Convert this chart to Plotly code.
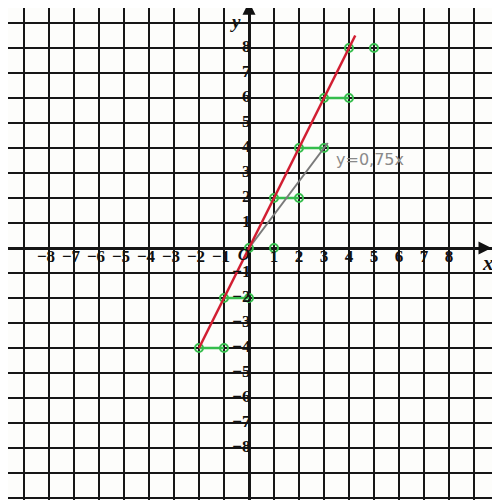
import plotly.graph_objects as go

# data
ticks_x = [-8, -7, -6, -5, -4, -3, -2, -1, 1, 2, 3, 4, 5, 6, 7, 8]
ticks_y = [-8, -7, -6, -5, -4, -3, -2, -1, 1, 2, 3, 4, 5, 6, 7, 8]

red_x = [-2, 4.25]
red_y = [-4, 8.5]

gray_x = [0, 3.15]
gray_y = [0, 4.2]

# green steps: start/end of each horizontal piece
steps_x0 = [-2, -1, 0, 1, 2, 3, 4]
steps_x1 = [-1, 0, 1, 2, 3, 4, 5]
steps_y = [-4, -2, 0, 2, 4, 6, 8]
steps_joined = [True, True, False, True, True, True, False]

GRID = "#161616"
GREEN = "#35bd4c"
LABEL_FONT = dict(family="Liberation Serif", size=17, color="#111",
                  weight="bold")


def minus(v):
    return str(v).replace("-", "\u2212")


fig = go.Figure()

# green steps (segments + hollow circles)
for x0, x1, y, joined in zip(steps_x0, steps_x1, steps_y, steps_joined):
    fig.add_trace(go.Scatter(
        x=[x0, x1], y=[y, y], mode="lines+markers" if joined else "markers",
        line=dict(color=GREEN, width=2.5),
        marker=dict(size=8, color="rgba(255,255,255,0)",
                    line=dict(color=GREEN, width=2)),
        showlegend=False, hoverinfo="skip"))

fig.add_trace(go.Scatter(x=gray_x, y=gray_y, mode="lines",
                         line=dict(color="#7a7a7a", width=2),
                         showlegend=False))
fig.add_trace(go.Scatter(x=red_x, y=red_y, mode="lines",
                         line=dict(color="#d21f32", width=2.5),
                         showlegend=False))

# tick labels next to the axes
fig.add_trace(go.Scatter(
    x=[v - 0.12 if v < 0 else v for v in ticks_x], y=[-0.38] * len(ticks_x),
    mode="text", text=[minus(v) for v in ticks_x],
    textfont=LABEL_FONT, showlegend=False, hoverinfo="skip"))
fig.add_trace(go.Scatter(
    x=[0.06] * len(ticks_y), y=ticks_y, mode="text",
    text=[minus(v) for v in ticks_y],
    textposition="middle left", textfont=LABEL_FONT,
    showlegend=False, hoverinfo="skip"))
fig.add_trace(go.Scatter(
    x=[-0.2], y=[-0.3], mode="text", text=["<i>O</i>"],
    textfont=LABEL_FONT, showlegend=False, hoverinfo="skip"))

# axis names
fig.add_annotation(x=9.55, y=-0.6, text="<i><b>x</b></i>", showarrow=False,
                   font=dict(family="Liberation Serif", size=21, color="#111"))
fig.add_annotation(x=-0.55, y=9.58, yanchor="top", text="<i><b>y</b></i>",
                   showarrow=False,
                   font=dict(family="Liberation Serif", size=19, color="#111"))

# axis arrows
fig.add_annotation(x=9.7, y=0, ax=9.0, ay=0, xref="x", yref="y",
                   axref="x", ayref="y", text="", showarrow=True,
                   arrowhead=2, arrowsize=1.3, arrowwidth=2, arrowcolor="#111")
fig.add_annotation(x=0, y=9.85, ax=0, ay=9.0, xref="x", yref="y",
                   axref="x", ayref="y", text="", showarrow=True,
                   arrowhead=2, arrowsize=1.3, arrowwidth=2, arrowcolor="#111")

fig.add_annotation(x=3.4, y=3.55, text="y=0,75x", showarrow=False,
                   xanchor="left",
                   font=dict(family="DejaVu Sans", size=16, color="#8a8a8a"))

# the page body has an 8px margin, so the figure is 492px and the ranges
# are set so the grid lands where it does in the picture
fig.update_xaxes(range=[-9.64, 10.04], dtick=1, tick0=0, showgrid=True,
                 gridcolor=GRID, gridwidth=2, zeroline=True,
                 zerolinecolor=GRID, zerolinewidth=2.5,
                 showticklabels=False, ticks="")
fig.update_yaxes(range=[-10.08, 9.6], dtick=1, tick0=0, showgrid=True,
                 gridcolor=GRID, gridwidth=2, zeroline=True,
                 zerolinecolor=GRID, zerolinewidth=2.5,
                 showticklabels=False, ticks="")

fig.update_layout(width=492, height=492, margin=dict(l=0, r=0, t=0, b=0),
                  plot_bgcolor="#fdfdfb", paper_bgcolor="#fdfdfb",
                  showlegend=False)

fig.write_html("out.html")
